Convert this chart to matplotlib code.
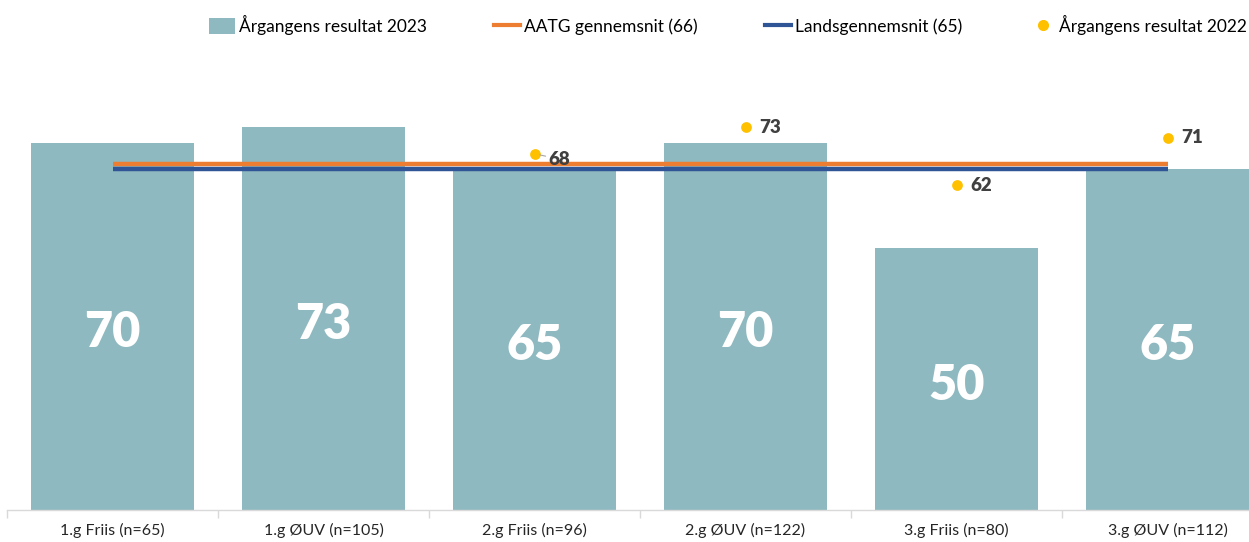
import matplotlib.pyplot as plt
from matplotlib.patches import Patch
from matplotlib.lines import Line2D

plt.rcParams['font.family'] = ['Lato', 'DejaVu Sans']

# ---------------- data ----------------
categories = ['1.g Friis (n=65)', '1.g ØUV (n=105)', '2.g Friis (n=96)',
              '2.g ØUV (n=122)', '3.g Friis (n=80)', '3.g ØUV (n=112)']
result_2023 = [70, 73, 65, 70, 50, 65]
aatg_avg = 66
lands_avg = 65
result_2022 = [None, None, 68, 73, 62, 71]

bar_col = '#8FB9C0'
orange = '#ED7D31'
blue = '#2F5597'
yellow = '#FFC000'

# ---------------- figure ----------------
W, H = 1249, 542
fig = plt.figure(figsize=(W / 100, H / 100), dpi=100)
ytop = 80
px_per_unit = 5.24
ax = fig.add_axes([7 / W, 32 / H, 1266 / W, ytop * px_per_unit / H])

x = list(range(len(categories)))
ax.bar(x, result_2023, width=0.773, color=bar_col, zorder=1)
for xi, v in zip(x, result_2023):
    ax.annotate(str(v), xy=(xi, v / 2), xytext=(0, -4.5), textcoords='offset points',
                ha='center', va='center', color='white',
                fontsize=35, fontweight='heavy', zorder=5)

ax.plot([x[0], x[-1]], [aatg_avg, aatg_avg], color=orange, lw=3.2,
        solid_capstyle='butt', zorder=3)
ax.plot([x[0], x[-1]], [lands_avg, lands_avg], color=blue, lw=3.2,
        solid_capstyle='butt', zorder=3)

for xi, v in zip(x, result_2022):
    if v is None:
        continue
    ax.scatter([xi], [v], s=60, color=yellow, zorder=4, linewidths=0)
    if v == 68:
        ax.annotate(str(v), xy=(xi, v), xytext=(10, -4), textcoords='offset points',
                    ha='left', va='center', fontsize=13.5, fontweight='heavy',
                    color='#404040', zorder=6,
                    arrowprops=dict(arrowstyle='-', color='#A6A6A6', lw=0.8,
                                    shrinkA=0, shrinkB=4))
    else:
        ax.annotate(str(v), xy=(xi, v), xytext=(10, 0), textcoords='offset points',
                    ha='left', va='center', fontsize=13.5, fontweight='heavy',
                    color='#404040', zorder=6)

ax.set_xlim(-0.5, len(categories) - 0.5)
ax.set_ylim(0, ytop)
ax.set_xticks(x)
ax.set_xticklabels(categories, fontsize=11.5, color='#262626')
ax.set_xticks([i - 0.5 for i in range(len(categories) + 1)], minor=True)
ax.tick_params(axis='x', which='major', length=0, pad=9)
ax.tick_params(axis='x', which='minor', length=6, color='#D9D9D9', width=1)
ax.set_yticks([])
for s in ['top', 'right', 'left']:
    ax.spines[s].set_visible(False)
ax.spines['bottom'].set_color('#D9D9D9')
ax.spines['bottom'].set_linewidth(1)

handles = [
    Patch(facecolor=bar_col, edgecolor='none'),
    Line2D([0], [0], color=orange, lw=3),
    Line2D([0], [0], color=blue, lw=3),
    Line2D([0], [0], marker='o', color='none', markerfacecolor=yellow,
           markeredgecolor='none', markersize=8),
]
labels = ['Årgangens resultat 2023', 'AATG gennemsnit (66)',
          'Landsgennemsnit (65)', 'Årgangens resultat 2022']
fig.legend(handles, labels, loc='center', bbox_to_anchor=(728 / W, 1 - 25 / H),
           ncol=4, frameon=False, fontsize=12.5, handlelength=1.5,
           handletextpad=0.2, columnspacing=3.9, handleheight=1.0)

fig.savefig('out.png', dpi=100)
